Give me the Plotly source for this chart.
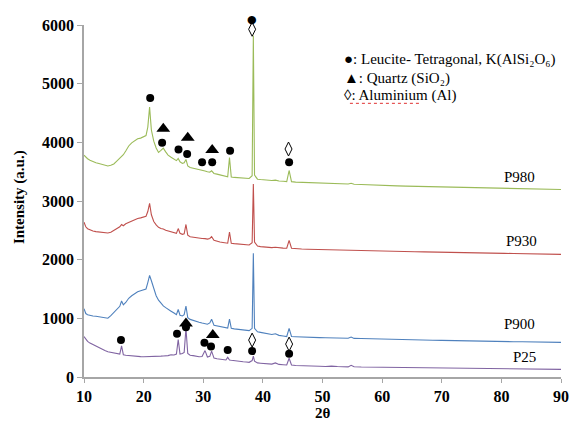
import plotly.graph_objects as go

# ---- data ----
two_theta = [
    10, 10.3, 10.6, 11, 11.5, 12, 12.5, 13, 13.5, 14, 14.5, 15, 15.5, 16.0, 16.3, 16.6, 17, 17.5, 18, 18.5, 19, 19.5, 20,
    20.4, 20.7, 21.0, 21.3, 21.7, 22.1, 22.5, 22.9, 23.3, 23.7, 24.1, 24.6, 25.1, 25.5, 25.8, 26.1, 26.5, 26.8, 27.1, 27.4, 27.8, 28.3, 28.8, 29.3, 29.8,
    30.3, 30.7, 31.1, 31.4, 31.8, 32.3, 32.8, 33.3, 33.8, 34.1, 34.4, 34.7, 35.2, 35.7, 36.2, 36.7, 37.2, 37.7, 38.2, 38.4, 38.6, 39.1, 39.6,
    40.2, 40.8, 41.5, 42.1, 42.7, 43.4, 44.0, 44.4, 44.8, 45.5, 46.5, 47.5, 48.5, 49.5, 50.5, 51.5, 52.5, 53.5, 54.3, 54.8, 55.3,
    56.5, 58, 59.5, 61, 62.5, 64, 65.5, 67, 68.5, 70, 71.5, 73, 74.5, 76, 77.5, 79, 80.5, 82, 83.5, 85, 86.5, 88, 89.5, 90,
]

p980 = [
    3780, 3745, 3720, 3695, 3668, 3652, 3640, 3622, 3612, 3598, 3608, 3632, 3680, 3722, 3762, 3788, 3852, 3938, 3992, 4028, 4062, 4072, 4092,
    4115, 4260, 4600, 4210, 4020, 3905, 3828, 3862, 3902, 3838, 3782, 3745, 3712, 3688, 3725, 3668, 3642, 3652, 3708, 3598, 3572, 3562, 3548, 3532, 3520,
    3512, 3498, 3492, 3515, 3470, 3458, 3442, 3432, 3420, 3412, 3740, 3410, 3402, 3396, 3390, 3386, 3380, 3384, 3430, 5820, 3440, 3372, 3366,
    3360, 3354, 3350, 3356, 3340, 3336, 3330, 3520, 3330, 3322, 3318, 3316, 3310, 3306, 3304, 3302, 3298, 3296, 3290, 3302, 3286,
    3280, 3272, 3266, 3262, 3258, 3254, 3250, 3248, 3244, 3240, 3238, 3234, 3230, 3228, 3224, 3222, 3220, 3216, 3212, 3210, 3205, 3200, 3198, 3196,
]

p930 = [
    2640, 2560, 2528, 2505, 2488, 2478, 2470, 2468, 2458, 2455, 2468, 2498, 2530, 2560, 2600, 2578, 2612, 2635, 2660, 2688, 2702, 2712, 2722,
    2740, 2820, 2960, 2765, 2650, 2592, 2552, 2530, 2522, 2500, 2488, 2470, 2458, 2448, 2530, 2450, 2432, 2440, 2600, 2418, 2390, 2380, 2372, 2365, 2360,
    2358, 2350, 2362, 2392, 2330, 2312, 2300, 2292, 2286, 2280, 2470, 2280, 2274, 2270, 2264, 2260, 2256, 2250, 2290, 3290, 2300, 2232, 2222,
    2216, 2210, 2205, 2212, 2200, 2196, 2195, 2330, 2195, 2186, 2182, 2178, 2175, 2172, 2170, 2168, 2165, 2162, 2160, 2168, 2158,
    2155, 2150, 2146, 2144, 2140, 2138, 2134, 2132, 2128, 2126, 2122, 2120, 2118, 2115, 2112, 2110, 2108, 2105, 2102, 2100, 2098, 2095, 2092, 2090,
]

p900 = [
    1165, 1082, 1062, 1050, 1040, 1035, 1028, 1018, 1006, 1002, 1045, 1100, 1150, 1205, 1295, 1230, 1270, 1342, 1385, 1420, 1452, 1470, 1482,
    1500, 1610, 1732, 1640, 1495, 1385, 1310, 1252, 1212, 1182, 1160, 1122, 1090, 1062, 1150, 1052, 1040, 1062, 1210, 1012, 982, 962, 946, 934, 920,
    910, 900, 922, 985, 882, 870, 860, 852, 842, 835, 985, 830, 820, 815, 806, 800, 795, 790, 830, 2110, 830, 770, 760,
    750, 740, 725, 736, 710, 700, 690, 830, 690, 686, 680, 678, 675, 672, 670, 668, 665, 662, 660, 680, 658,
    655, 650, 646, 644, 640, 636, 632, 630, 626, 624, 620, 618, 614, 612, 608, 606, 604, 602, 600, 598, 596, 594, 592, 590,
]

p25 = [
    690, 640, 608, 578, 550, 522, 498, 478, 450, 430, 418, 408, 398, 390, 530, 380, 372, 365, 360, 355, 350, 348, 345,
    345, 348, 352, 350, 348, 350, 352, 355, 358, 360, 365, 380, 375, 392, 640, 392, 400, 420, 830, 400, 372, 365, 355, 345, 350,
    450, 340, 352, 440, 322, 310, 305, 300, 290, 335, 290, 285, 276, 270, 265, 260, 255, 250, 280, 355, 270, 240, 235,
    230, 225, 220, 240, 215, 210, 205, 320, 205, 196, 190, 188, 185, 182, 180, 186, 178, 175, 172, 200, 175,
    170, 168, 166, 164, 162, 160, 158, 156, 155, 153, 152, 150, 148, 147, 145, 144, 142, 140, 138, 137, 135, 133, 131, 130,
]

series_names = ["P980", "P930", "P900", "P25"]
series_colors = ["#9BBB59", "#C0504D", "#4F81BD", "#8064A2"]
label_x = [83.0, 83.4, 83.0, 83.9]
label_y = [3405, 2312, 901, 340]

# phase markers
leucite_x = [21.1, 23.1, 25.85, 27.3, 29.8, 31.5, 34.5, 38.2, 44.4,
             16.2, 25.6, 27.1, 30.2, 31.3, 34.1, 38.2, 44.4]
leucite_y = [4754, 3994, 3876, 3802, 3660, 3660, 3858, 6097, 3660,
             629, 736, 850, 583, 521, 459, 442, 396]
quartz_x = [23.3, 27.4, 31.5, 27.1, 31.6]
quartz_y = [4232, 4080, 3869, 911, 714]
al_x = [38.2, 44.3, 38.2, 44.4]
al_y = [5927, 3886, 629, 561]

legend_lines = [
    "●: Leucite- Tetragonal, K(AlSi₂O₆)",
    "▲: Quartz (SiO₂)",
    "◊: Aluminium (Al)",
]
legend_x = 53.3
legend_y = [5405, 5082, 4793]

x_ticks = [10, 20, 30, 40, 50, 60, 70, 80, 90]
y_ticks = [0, 1000, 2000, 3000, 4000, 5000, 6000]
Y_MAX = 6000

# ---- figure ----
FONT = "Liberation Serif"
fig = go.Figure()

for ys, name, col in zip([p980, p930, p900, p25], series_names, series_colors):
    fig.add_trace(go.Scatter(x=two_theta, y=ys, mode="lines", name=name,
                             line=dict(color=col, width=1.1), showlegend=False,
                             hoverinfo="skip"))

# circles inside the axis range as markers; those above the top (Plotly hides
# out-of-range markers) are drawn as text glyphs placed on the paper scale
in_x = [x for x, y in zip(leucite_x, leucite_y) if y <= Y_MAX]
in_y = [y for y in leucite_y if y <= Y_MAX]
out_x = [x for x, y in zip(leucite_x, leucite_y) if y > Y_MAX]
out_y = [y for y in leucite_y if y > Y_MAX]

fig.add_trace(go.Scatter(x=in_x, y=in_y, mode="markers", showlegend=False,
                         marker=dict(symbol="circle", size=8, color="black"),
                         cliponaxis=False))
for x, y in zip(out_x, out_y):
    fig.add_annotation(x=x, y=y / Y_MAX, xref="x", yref="paper", text="●", showarrow=False,
                       xanchor="center", yanchor="middle",
                       font=dict(family="DejaVu Sans", size=11, color="black"))

fig.add_trace(go.Scatter(x=quartz_x, y=quartz_y, mode="markers", showlegend=False,
                         marker=dict(symbol="triangle-up", size=12, color="black"),
                         cliponaxis=False))
fig.add_trace(go.Scatter(x=al_x, y=al_y, mode="markers", showlegend=False,
                         marker=dict(symbol="diamond-tall-open", size=10, color="black",
                                     line=dict(width=1, color="black")),
                         cliponaxis=False))

for name, lx, ly in zip(series_names, label_x, label_y):
    fig.add_annotation(x=lx, y=ly, xref="x", yref="y", text=name, showarrow=False,
                       font=dict(family=FONT, size=15, color="black"))

for txt, ly in zip(legend_lines, legend_y):
    fig.add_annotation(x=legend_x, y=ly, xref="x", yref="y", text=txt, showarrow=False,
                       xanchor="left", yanchor="middle",
                       font=dict(family=FONT, size=15, color="black"))

# spell-check style underline under "Aluminium"
fig.add_shape(type="line", xref="x", yref="y", x0=54.6, x1=66.3, y0=4665, y1=4665,
              line=dict(color="#E03030", width=1, dash="dot"))

# axis titles
fig.add_annotation(x=0.5, y=-0.103, xref="paper", yref="paper", text="<b>2θ</b>",
                   showarrow=False, yanchor="middle",
                   font=dict(family=FONT, size=15, color="black"))
fig.add_annotation(x=-0.135, y=0.51, xref="paper", yref="paper", text="<b>Intensity (a.u.)</b>",
                   showarrow=False, textangle=-90, xanchor="center", yanchor="middle",
                   font=dict(family=FONT, size=15, color="black"))

axis_col = "#A6A6A6"
fig.update_xaxes(range=[10, 90], tickvals=x_ticks, ticktext=[str(v) for v in x_ticks],
                 showgrid=False, zeroline=False, showline=True, linecolor=axis_col, linewidth=1.5,
                 ticks="outside", ticklen=4, tickcolor=axis_col, tickwidth=1,
                 tickfont=dict(family=FONT, size=16, color="black", weight="bold"))
fig.update_yaxes(range=[0, Y_MAX], tickvals=y_ticks, ticktext=[str(v) for v in y_ticks],
                 showgrid=False, zeroline=False, showline=True, linecolor=axis_col, linewidth=1.5,
                 ticks="outside", ticklen=5, tickcolor=axis_col, tickwidth=1,
                 tickfont=dict(family=FONT, size=16, color="black", weight="bold"))

# the page body adds an 8px margin, so the figure is sized/offset to compensate
fig.update_layout(width=570, height=418, margin=dict(l=76, r=9, t=16, b=49),
                  paper_bgcolor="white", plot_bgcolor="white",
                  font=dict(family=FONT, color="black"), showlegend=False)

fig.write_html("out.html", config={"displayModeBar": False})
